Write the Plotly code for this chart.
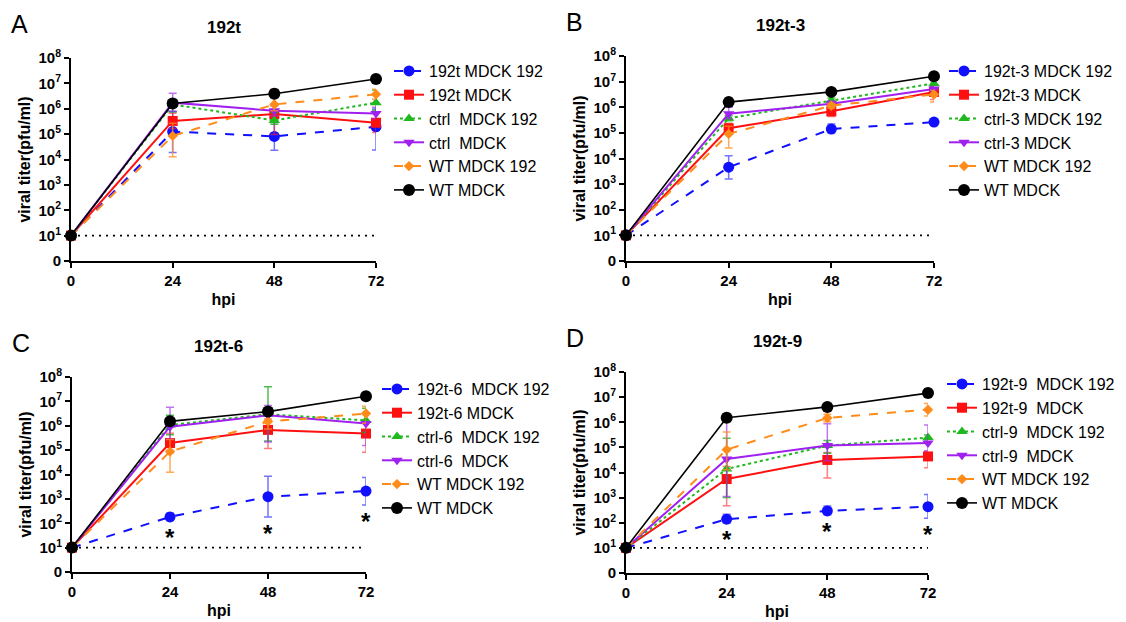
import plotly.graph_objects as go

# time points (hpi)
hpi = [0, 24, 48, 72]

# values are log10(pfu/ml); 0 = below detection
# --- panel A: 192t ---
a_names = ["192t MDCK 192", "192t MDCK", "ctrl\u00a0 MDCK 192", "ctrl\u00a0 MDCK", "WT MDCK 192", "WT MDCK"]
a_blue = [1, 5.10, 4.91, 5.29]
a_red = [1, 5.52, 5.79, 5.45]
a_green = [1, 6.17, 5.54, 6.24]
a_purple = [1, 6.24, 5.92, 5.81]
a_orange = [1, 4.93, 6.17, 6.57]
a_black = [1, 6.21, 6.59, 7.17]
a_err_up = [[0, 0.80, 0.55, 0.70], [0, 0.30, 0.98, 0.40], [0, 0.20, 0.30, 0.50],
            [0, 0.37, 0.20, 0.25], [0, 0.50, 0.30, 0.20], [0, 0.12, 0.15, 0.15]]
a_err_dn = [[0, 0.82, 0.55, 0.92], [0, 0.30, 0.80, 0.39], [0, 0.30, 0.15, 0.30],
            [0, 0.35, 0.20, 0.20], [0, 0.82, 0.25, 0.20], [0, 0.12, 0.15, 0.15]]

# --- panel B: 192t-3 ---
b_names = ["192t-3 MDCK 192", "192t-3 MDCK", "ctrl-3 MDCK 192", "ctrl-3 MDCK", "WT MDCK 192", "WT MDCK"]
b_blue = [1, 3.66, 5.15, 5.42]
b_red = [1, 5.18, 5.84, 6.60]
b_green = [1, 5.57, 6.26, 6.93]
b_purple = [1, 5.75, 6.14, 6.71]
b_orange = [1, 4.96, 6.06, 6.50]
b_black = [1, 6.20, 6.60, 7.21]
b_err_up = [[0, 0.45, 0.20, 0.05], [0, 0.20, 0.20, 0.20], [0, 0.10, 0.10, 0.10],
            [0, 0.25, 0.10, 0.10], [0, 0.30, 0.10, 0.15], [0, 0.15, 0.12, 0.15]]
b_err_dn = [[0, 0.46, 0.15, 0.05], [0, 0.20, 0.20, 0.30], [0, 0.10, 0.10, 0.10],
            [0, 0.20, 0.10, 0.10], [0, 0.55, 0.10, 0.30], [0, 0.15, 0.10, 0.15]]

# --- panel C: 192t-6 ---
c_names = ["192t-6\u00a0 MDCK 192", "192t-6 MDCK", "ctrl-6\u00a0 MDCK 192", "ctrl-6\u00a0 MDCK", "WT MDCK 192", "WT MDCK"]
c_blue = [1, 2.26, 3.09, 3.32]
c_red = [1, 5.29, 5.83, 5.68]
c_green = [1, 6.03, 6.47, 6.22]
c_purple = [1, 5.96, 6.43, 6.09]
c_orange = [1, 4.94, 6.17, 6.50]
c_black = [1, 6.18, 6.58, 7.21]
c_err_up = [[0, 0.15, 0.84, 0.56], [0, 0.40, 0.45, 0.50], [0, 0.40, 1.13, 0.50],
            [0, 0.80, 0.40, 0.40], [0, 0.50, 0.30, 0.30], [0, 0.10, 0.10, 0.15]]
c_err_dn = [[0, 0.15, 0.83, 0.57], [0, 0.40, 0.76, 0.77], [0, 0.40, 1.10, 0.50],
            [0, 0.50, 1.10, 0.90], [0, 0.85, 0.30, 0.40], [0, 0.10, 0.10, 0.15]]

# --- panel D: 192t-9 ---
d_names = ["192t-9\u00a0 MDCK 192", "192t-9\u00a0 MDCK", "ctrl-9\u00a0 MDCK 192", "ctrl-9\u00a0 MDCK", "WT MDCK 192", "WT MDCK"]
d_blue = [1, 2.14, 2.47, 2.64]
d_red = [1, 3.74, 4.50, 4.64]
d_green = [1, 4.14, 5.07, 5.39]
d_purple = [1, 4.54, 5.07, 5.17]
d_orange = [1, 4.91, 6.17, 6.50]
d_black = [1, 6.18, 6.61, 7.16]
d_err_up = [[0, 0.20, 0.20, 0.48], [0, 0.50, 0.30, 0.20], [0, 1.22, 0.20, 0.10],
            [0, 1.50, 0.87, 0.72], [0, 0.70, 0.15, 0.25], [0, 0.15, 0.10, 0.15]]
d_err_dn = [[0, 0.15, 0.15, 0.46], [0, 1.06, 0.72, 0.45], [0, 1.14, 0.30, 0.10],
            [0, 1.50, 0.60, 0.30], [0, 0.80, 0.15, 0.25], [0, 0.15, 0.10, 0.15]]

# significance marks (time points where 192 group differs)
c_star_hpi = [24, 48, 72]
d_star_hpi = [24, 48, 72]

detection_limit = [1, 1]
y_ticks = list(range(9))

# the page body has an 8px margin, so the figure is a little smaller than the window
PAGE_OFF = 8
W, H = 1126 - PAGE_OFF, 622 - PAGE_OFF
FONT = "Liberation Sans, Arial, sans-serif"


def px_x(v):
    return (v - PAGE_OFF) / W


def px_y(v):
    return 1 - (v - PAGE_OFF) / H


styles = [
    dict(color="#1010ff", err="rgba(40,40,255,0.65)", dash="dash", symbol="circle", size=11),
    dict(color="#ff1010", err="rgba(255,40,40,0.6)", dash="solid", symbol="square", size=10),
    dict(color="#1fb81f", err="rgba(20,170,20,0.75)", dash="dot", symbol="triangle-up", size=10),
    dict(color="#a020f0", err="rgba(160,40,240,0.65)", dash="solid", symbol="triangle-down", size=10),
    dict(color="#ff8c1a", err="rgba(255,140,30,0.75)", dash="dash", symbol="diamond", size=8),
    dict(color="#000000", err="rgba(0,0,0,0.8)", dash="solid", symbol="circle", size=12),
]

panels = [
    dict(letter="A", title="192t", names=a_names, series=[a_blue, a_red, a_green, a_purple, a_orange, a_black],
         up=a_err_up, dn=a_err_dn, stars=[], px_x=(71, 376), px_y=(58, 261), legend_px=(389, 54)),
    dict(letter="B", title="192t-3", names=b_names, series=[b_blue, b_red, b_green, b_purple, b_orange, b_black],
         up=b_err_up, dn=b_err_dn, stars=[], px_x=(626, 934), px_y=(56, 261), legend_px=(944, 54)),
    dict(letter="C", title="192t-6", names=c_names, series=[c_blue, c_red, c_green, c_purple, c_orange, c_black],
         up=c_err_up, dn=c_err_dn, stars=c_star_hpi, px_x=(72, 366), px_y=(377, 572), legend_px=(377, 372)),
    dict(letter="D", title="192t-9", names=d_names, series=[d_blue, d_red, d_green, d_purple, d_orange, d_black],
         up=d_err_up, dn=d_err_dn, stars=d_star_hpi, px_x=(626, 928), px_y=(372, 573), legend_px=(942, 367)),
]

fig = go.Figure()
annotations = []
layout = {}

for i, p in enumerate(panels):
    n = "" if i == 0 else str(i + 1)
    xa, ya, lg = "x" + n, "y" + n, "legend" + n

    # limit of detection line
    fig.add_trace(go.Scatter(
        x=[hpi[0], hpi[-1]], y=detection_limit, xaxis=xa, yaxis=ya, mode="lines",
        line=dict(color="black", width=1.6, dash="2px,5px"), showlegend=False, hoverinfo="skip"))

    for name, ys, up, dn, st in zip(p["names"], p["series"], p["up"], p["dn"], styles):
        fig.add_trace(go.Scatter(
            x=hpi, y=ys, xaxis=xa, yaxis=ya, name=name, legend=lg, legendgroup=lg + name,
            mode="lines+markers", cliponaxis=False,
            line=dict(color=st["color"], width=2 if st["color"] != "#000000" else 1.6, dash=st["dash"]),
            marker=dict(color=st["color"], symbol=st["symbol"], size=st["size"]),
            error_y=dict(type="data", symmetric=False, array=up, arrayminus=dn,
                         color=st["err"], thickness=1.5, width=4)))

    x0, x1 = p["px_x"]
    yt, yb = p["px_y"]
    layout["xaxis" + n] = dict(
        domain=[px_x(x0), px_x(x1)], anchor=ya, range=[0, 72], tickvals=hpi,
        ticktext=["<b>%d</b>" % t for t in hpi],
        showline=True, linecolor="black", linewidth=2, ticks="outside", ticklen=5, tickwidth=2,
        tickcolor="black", showgrid=False, zeroline=False,
        tickfont=dict(family=FONT, size=15, color="black"),
        title=dict(text="<b>hpi</b>", font=dict(family=FONT, size=16, color="black"), standoff=6))
    layout["yaxis" + n] = dict(
        domain=[px_y(yb), px_y(yt)], anchor=xa, range=[0, 8], tickvals=y_ticks,
        ticktext=["<b>0</b>"] + ["<b>10<sup>%d</sup></b>" % t for t in y_ticks[1:]],
        showline=True, linecolor="black", linewidth=2, ticks="outside", ticklen=5, tickwidth=2,
        tickcolor="black", showgrid=False, zeroline=False,
        tickfont=dict(family=FONT, size=15, color="black"),
        title=dict(text="<b>viral titer(pfu/ml)</b>", font=dict(family=FONT, size=16, color="black"),
                   standoff=4))
    lx, ly = p["legend_px"]
    layout[lg] = dict(
        x=px_x(lx), y=px_y(ly), xanchor="left", yanchor="top", bgcolor="rgba(0,0,0,0)",
        font=dict(family=FONT, size=16, color="black"), itemwidth=30, tracegroupgap=0)

    # panel letter and title
    annotations.append(dict(text=p["letter"], xref="paper", yref="paper",
                            x=px_x(x0 - 62), y=px_y(yt - 34), xanchor="left", yanchor="middle",
                            showarrow=False, font=dict(family=FONT, size=25, color="black")))
    annotations.append(dict(text="<b>%s</b>" % p["title"], xref="paper", yref="paper",
                            x=px_x((x0 + x1) / 2), y=px_y(yt - 31), xanchor="center", yanchor="middle",
                            showarrow=False, font=dict(family=FONT, size=17, color="black")))
    # asterisks under the 192 curve
    blue, blue_dn = p["series"][0], p["dn"][0]
    for t in p["stars"]:
        k = hpi.index(t)
        annotations.append(dict(text="<b>*</b>", xref=xa, yref=ya, x=t, y=blue[k] - blue_dn[k],
                                xanchor="center", yanchor="top", yshift=-1, showarrow=False,
                                font=dict(family=FONT, size=24, color="black")))

fig.update_layout(
    width=W, height=H, margin=dict(l=0, r=0, t=0, b=0, autoexpand=False),
    plot_bgcolor="white", paper_bgcolor="white",
    font=dict(family=FONT, color="black"),
    annotations=annotations, **layout)

fig.write_html("out.html")
